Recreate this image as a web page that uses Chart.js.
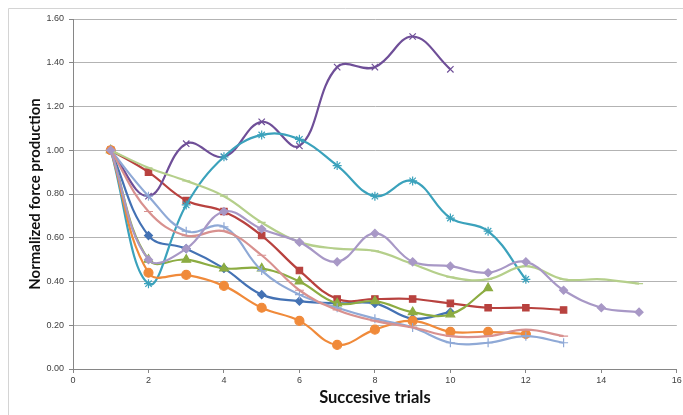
<!DOCTYPE html>
<html>
<head>
<meta charset="utf-8">
<script src="https://cdn.jsdelivr.net/npm/chart.js@4/dist/chart.umd.min.js"></script>
<style>
  html, body { margin: 0; padding: 0; background: #ffffff; }
  #wrap { position: relative; width: 683px; height: 415px; }
</style>
</head>
<body>
<div id="wrap"><canvas id="c" width="683" height="415"></canvas></div>
<script>
// Trial numbers (x) and normalized force per subject (y)
const trials = [1, 2, 3, 4, 5, 6, 7, 8, 9, 10, 11, 12, 13, 14, 15];

const s1 = [1.00, 0.61, 0.55, 0.46, 0.34, 0.31, 0.30, 0.30, 0.23, 0.26];
const s2 = [1.00, 0.90, 0.77, 0.72, 0.61, 0.45, 0.32, 0.32, 0.32, 0.30, 0.28, 0.28, 0.27];
const s3 = [1.00, 0.50, 0.50, 0.46, 0.46, 0.40, 0.30, 0.31, 0.26, 0.25, 0.37];
const s4 = [1.00, 0.79, 1.03, 0.97, 1.13, 1.02, 1.38, 1.38, 1.52, 1.37];
const s5 = [1.00, 0.39, 0.75, 0.97, 1.07, 1.05, 0.93, 0.79, 0.86, 0.69, 0.63, 0.41];
const s6 = [1.00, 0.44, 0.43, 0.38, 0.28, 0.22, 0.11, 0.18, 0.22, 0.17, 0.17, 0.16];
const s7 = [1.00, 0.79, 0.63, 0.65, 0.45, 0.34, 0.28, 0.23, 0.19, 0.12, 0.12, 0.15, 0.12];
const s8 = [1.00, 0.72, 0.61, 0.63, 0.52, 0.36, 0.27, 0.22, 0.19, 0.15, 0.15, 0.18, 0.15];
const s9 = [1.00, 0.92, 0.86, 0.79, 0.67, 0.58, 0.55, 0.54, 0.48, 0.42, 0.41, 0.47, 0.41, 0.41, 0.39];
const s10 = [1.00, 0.50, 0.55, 0.72, 0.64, 0.58, 0.49, 0.62, 0.49, 0.47, 0.44, 0.49, 0.36, 0.28, 0.26];

const yTicks = [0.00, 0.20, 0.40, 0.60, 0.80, 1.00, 1.20, 1.40, 1.60];
const xTicks = [0, 2, 4, 6, 8, 10, 12, 14, 16];

const seriesList = [s1, s2, s3, s4, s5, s6, s7, s8, s9, s10];
const colors = ['#4472b4', '#b8423f', '#8cac42', '#6f4f98', '#3ba2bc', '#f08a3a',
                '#8fa9d6', '#d8918f', '#b5cf8b', '#a898c6'];
const markers = ['rectRot', 'rect', 'triangle', 'crossRot', 'star', 'circle',
                 'cross', 'line', 'line', 'rectRot'];
const radii = [4, 4.5, 5, 4.5, 4.5, 4.5, 4.5, 4.5, 4, 4];

const datasets = seriesList.map((vals, i) => ({
  data: vals.map((v, k) => ({ x: trials[k], y: v })),
  borderColor: colors[i],
  backgroundColor: colors[i],
  pointBackgroundColor: colors[i],
  pointBorderColor: colors[i],
  pointStyle: markers[i],
  pointRadius: radii[i],
  pointBorderWidth: 1.2,
  borderWidth: 2.2,
  tension: 0.4,
  fill: false,
  order: seriesList.length - i
}));

// Thin outer frame of the chart area
const framePlugin = {
  id: 'frame',
  beforeDraw(chart) {
    const ctx = chart.ctx;
    ctx.save();
    ctx.fillStyle = '#ffffff';
    ctx.fillRect(0, 0, chart.width, chart.height);
    ctx.strokeStyle = '#d4d4d4';
    ctx.lineWidth = 1;
    ctx.beginPath();
    ctx.moveTo(8.5, chart.height);
    ctx.lineTo(8.5, 8.5);
    ctx.lineTo(chart.width, 8.5);
    ctx.stroke();
    ctx.restore();
  }
};

new Chart(document.getElementById('c'), {
  type: 'line',
  data: { datasets },
  plugins: [framePlugin],
  options: {
    responsive: false,
    animation: false,
    layout: { padding: { left: 0, right: 0, top: 19, bottom: 0 } },
    plugins: { legend: { display: false }, tooltip: { enabled: false } },
    scales: {
      x: {
        type: 'linear',
        min: 0, max: 16,
        afterBuildTicks(scale) { scale.ticks = xTicks.map(v => ({ value: v })); },
        afterFit(scale) { scale.height = 46; scale.paddingLeft = 0; scale.paddingRight = 3; },
        ticks: {
          color: '#404040',
          font: { family: 'Liberation Sans', size: 9 },
          padding: 2,
          maxRotation: 0,
          callback: v => String(v)
        },
        grid: { drawOnChartArea: false, drawTicks: true, tickLength: 4, color: '#868686' },
        border: { display: true, color: '#868686', width: 1 },
        title: {
          display: true,
          text: 'Succesive trials',
          color: '#111111',
          font: { family: 'Lato', size: 16.5, weight: 'bold' },
          padding: { top: 0, bottom: 7 }
        }
      },
      y: {
        type: 'linear',
        min: 0, max: 1.6,
        afterBuildTicks(scale) { scale.ticks = yTicks.map(v => ({ value: v })); },
        afterFit(scale) { scale.width = 73; scale.paddingTop = 0; scale.paddingBottom = 0; },
        ticks: {
          color: '#404040',
          font: { family: 'Liberation Sans', size: 9 },
          padding: 5,
          callback: v => Number(v).toFixed(2)
        },
        grid: { color: '#b3b3b3', lineWidth: 1, drawTicks: true, tickLength: 4, tickColor: '#868686' },
        border: { display: true, color: '#868686', width: 1 },
        title: {
          display: true,
          text: 'Normalized force production',
          color: '#111111',
          font: { family: 'Lato', size: 15, weight: 'bold' },
          padding: { top: 26, bottom: 0 }
        }
      }
    }
  }
});
</script>
</body>
</html>
